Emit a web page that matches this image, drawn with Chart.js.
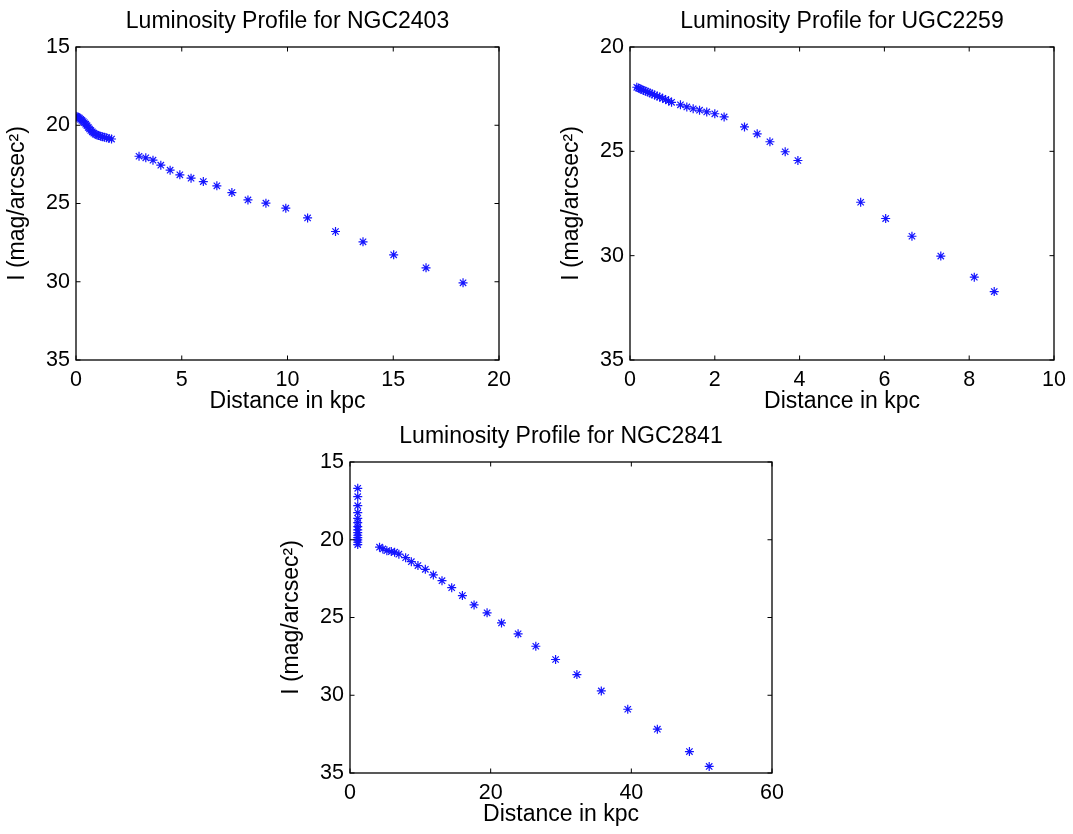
<!DOCTYPE html>
<html>
<head>
<meta charset="utf-8">
<script src="https://cdn.jsdelivr.net/npm/chart.js@4"></script>
<style>
  body { margin: 0; background: #fff; }
  canvas { position: absolute; }
</style>
</head>
<body>
<canvas id="c1" width="519" height="415" style="left:0px;top:0px"></canvas>
<canvas id="c2" width="520" height="415" style="left:554px;top:0px"></canvas>
<canvas id="c3" width="518" height="413" style="left:274px;top:415px"></canvas>
<script>
// NGC2403
const ngc2403Dist = [0.00,0.05,0.10,0.16,0.22,0.28,0.34,0.40,0.46,0.52,0.58,0.64,0.70,0.77,0.84,0.91,0.99,1.07,1.16,1.25,1.35,1.45,1.56,1.68,
  2.98,3.30,3.64,4.01,4.45,4.91,5.44,6.02,6.66,7.37,8.13,8.98,9.92,10.95,12.27,13.57,15.02,16.55,18.30];
const ngc2403Mag = [19.42,19.45,19.49,19.55,19.62,19.69,19.76,19.84,19.93,20.03,20.14,20.24,20.33,20.42,20.50,20.57,20.62,20.66,20.70,20.73,20.77,20.80,20.84,20.88,
  21.98,22.08,22.23,22.55,22.87,23.17,23.38,23.60,23.87,24.30,24.77,24.98,25.30,25.92,26.79,27.45,28.28,29.11,30.07];
const ngc2403XTicks = [0, 5, 10, 15, 20];
const ngc2403YTicks = [15, 20, 25, 30, 35];

// UGC2259
const ugc2259Dist = [0.16,0.20,0.24,0.28,0.32,0.37,0.42,0.47,0.52,0.58,0.64,0.70,0.77,0.84,0.91,0.98,
  1.19,1.34,1.49,1.64,1.81,2.00,2.22,2.70,3.00,3.30,3.66,3.96,5.44,6.03,6.65,7.33,8.12,8.59];
const ugc2259Mag = [21.93,21.97,22.00,22.04,22.08,22.12,22.16,22.20,22.25,22.30,22.35,22.40,22.46,22.52,22.58,22.65,
  22.77,22.87,22.96,23.03,23.11,23.20,23.35,23.83,24.16,24.54,25.02,25.44,27.44,28.22,29.07,30.02,31.03,31.72];
const ugc2259XTicks = [0, 2, 4, 6, 8, 10];
const ugc2259YTicks = [20, 25, 30, 35];

// NGC2841
const ngc2841Dist = [1.10,1.10,1.10,1.10,1.10,1.10,1.10,1.10,1.10,1.10,1.10,1.10,1.10,1.10,
  4.20,4.67,5.24,5.87,6.34,6.95,7.91,8.72,9.66,10.71,11.85,13.08,14.46,15.98,17.64,
  19.49,21.54,23.90,26.42,29.23,32.26,35.73,39.49,43.70,48.26,51.07];
const ngc2841Mag = [16.69,17.23,17.81,18.26,18.62,18.90,19.16,19.37,19.54,19.71,19.86,20.01,20.16,20.31,
  20.48,20.59,20.70,20.76,20.80,20.93,21.15,21.41,21.66,21.90,22.26,22.63,23.08,23.59,24.19,
  24.70,25.35,26.05,26.85,27.70,28.67,29.72,30.90,32.18,33.62,34.58];
const ngc2841XTicks = [0, 20, 40, 60];
const ngc2841YTicks = [15, 20, 25, 30, 35];

Chart.defaults.color = '#000';
Chart.defaults.font.family = "'Liberation Sans', Arial, sans-serif";
Chart.defaults.font.size = 21.5;

// box with inward ticks on all four sides, like matlab axes
const boxPlugin = {
    id: 'matlabBox',
    afterDraw(chart) {
        const ctx = chart.ctx;
        const a = chart.chartArea;
        const tl = 4.5;
        ctx.save();
        ctx.strokeStyle = '#000';
        ctx.lineWidth = 1.3;
        ctx.strokeRect(a.left, a.top, a.right - a.left, a.bottom - a.top);
        ctx.beginPath();
        chart.scales.x.ticks.forEach(t => {
            const px = chart.scales.x.getPixelForValue(t.value);
            ctx.moveTo(px, a.bottom); ctx.lineTo(px, a.bottom - tl);
            ctx.moveTo(px, a.top); ctx.lineTo(px, a.top + tl);
        });
        chart.scales.y.ticks.forEach(t => {
            const py = chart.scales.y.getPixelForValue(t.value);
            ctx.moveTo(a.left, py); ctx.lineTo(a.left + tl, py);
            ctx.moveTo(a.right, py); ctx.lineTo(a.right - tl, py);
        });
        ctx.lineWidth = 1;
        ctx.stroke();
        ctx.restore();
    }
};

function makePlot(id, name, xs, ys, xTicks, yTicks) {
    const pts = xs.map((x, i) => ({ x: x, y: ys[i] }));
    new Chart(document.getElementById(id), {
        type: 'scatter',
        data: {
            datasets: [{
                data: pts,
                pointStyle: 'star',
                pointRadius: 4.5,
                borderColor: 'rgb(20,20,255)',
                backgroundColor: 'rgb(20,20,255)',
                borderWidth: 1.2
            }]
        },
        options: {
            responsive: false,
            animation: false,
            layout: { padding: { left: 0, right: 20, top: 0, bottom: 0 } },
            plugins: {
                legend: { display: false },
                tooltip: { enabled: false },
                title: {
                    display: true,
                    text: 'Luminosity Profile for ' + name,
                    fullSize: false,
                    font: { size: 23, weight: 'normal' },
                    padding: { top: 8, bottom: 11.4 }
                }
            },
            scales: {
                x: {
                    type: 'linear',
                    min: xTicks[0],
                    max: xTicks[xTicks.length - 1],
                    ticks: { stepSize: xTicks[1] - xTicks[0], padding: 7, font: { size: 21.5 } },
                    grid: { display: false, drawTicks: false },
                    border: { display: false },
                    title: { display: true, text: 'Distance in kpc', font: { size: 23 }, padding: 0 },
                    afterFit: s => { s.height = 55; }
                },
                y: {
                    type: 'linear',
                    reverse: true,
                    min: yTicks[0],
                    max: yTicks[yTicks.length - 1],
                    ticks: { stepSize: yTicks[1] - yTicks[0], padding: 6, font: { size: 21.5 } },
                    grid: { display: false, drawTicks: false },
                    border: { display: false },
                    title: { display: true, text: 'I (mag/arcsec²)', font: { size: 23 }, padding: { top: 4, bottom: 0 } },
                    afterFit: s => { s.width = 76; }
                }
            }
        },
        plugins: [boxPlugin]
    });
}

makePlot('c1', 'NGC2403', ngc2403Dist, ngc2403Mag, ngc2403XTicks, ngc2403YTicks);
makePlot('c2', 'UGC2259', ugc2259Dist, ugc2259Mag, ugc2259XTicks, ugc2259YTicks);
makePlot('c3', 'NGC2841', ngc2841Dist, ngc2841Mag, ngc2841XTicks, ngc2841YTicks);
</script>
</body>
</html>
